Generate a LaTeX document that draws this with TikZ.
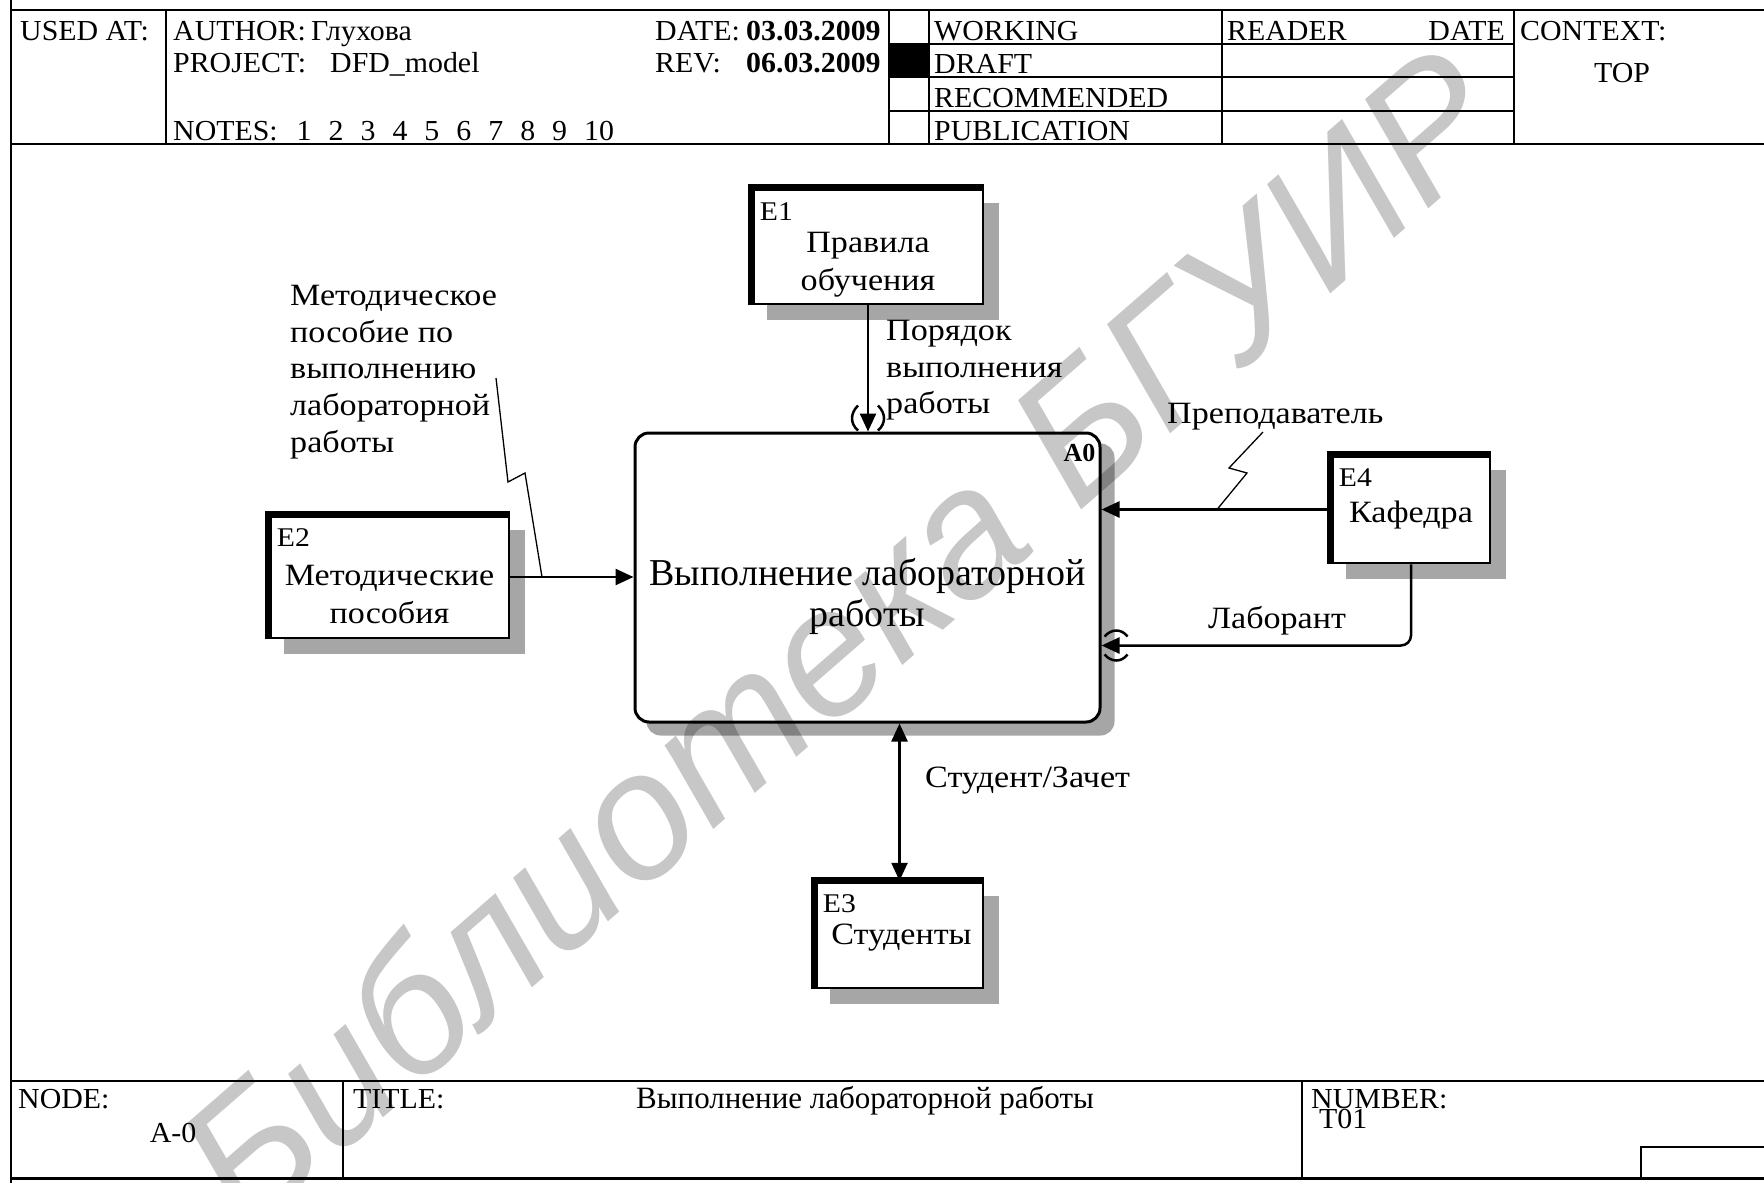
\documentclass[tikz,border=0pt]{standalone}
\usepackage{fontspec}
\setmainfont{Liberation Serif}
\setsansfont{Liberation Sans}
\newfontfamily\hdrfont[FakeStretch=1.03]{Liberation Serif}
\newfontfamily\lblfont[FakeStretch=1.1]{Liberation Serif}
\usetikzlibrary{positioning,arrows.meta,backgrounds,patterns}

\begin{document}
\begin{tikzpicture}[
x=1pt, y=-1pt,
every node/.style={inner sep=0pt},
hdr/.style={font=\hdrfont\fontsize{29}{34}\selectfont, anchor=base west},
rule/.style={line width=2pt},
ent/.style={draw, line width=2.5pt, fill=white},
heavy/.style={line width=7pt},
entname/.style={font=\lblfont\fontsize{31}{38}\selectfont, align=center},
eid/.style={font=\lblfont\fontsize{27}{30}\selectfont, anchor=base west},
flowlbl/.style={font=\lblfont\fontsize{31}{36.7}\selectfont, align=left},
flow/.style={line width=2.5pt, -{Triangle[length=18pt,width=16pt]}},
zig/.style={line width=1.3pt},
tun/.style={line width=2.5pt},
shade/.style={fill=black!35},
wm/.style={font=\sffamily\itshape\fontsize{180}{180}\selectfont, text=black!22, rotate=41}
]
\useasboundingbox (0,0) rectangle (1764,1183);

\draw[rule] (11,0) -- (11,1183);
\draw[rule] (11,10) -- (1764,10);
\draw[rule] (11,144) -- (1764,144);
\draw[rule] (166,10) -- (166,144);
\draw[rule] (889,10) -- (889,144);
\draw[rule] (929,10) -- (929,144);
\draw[rule] (1222,10) -- (1222,144);
\draw[rule] (1514,10) -- (1514,144);
\draw[rule] (889,44) -- (1514,44);
\draw[rule] (889,77) -- (1514,77);
\draw[rule] (889,111) -- (1514,111);
\fill (889,44) rectangle (929,77);

\node[hdr] (usedat) at (20,40) {USED AT:};
\node[hdr] (author) at (173,40) {AUTHOR:};
\node[hdr] (authorv) at (311,40) {Глухова};
\node[hdr] (project) at (173,72) {PROJECT:};
\node[hdr] (projectv) at (330,72) {DFD\_model};
\node[hdr] (notes) at (173,140) {NOTES:\hspace{19pt}1\hspace{17pt}2\hspace{17pt}3\hspace{17pt}4\hspace{17pt}5\hspace{17pt}6\hspace{17pt}7\hspace{17pt}8\hspace{17pt}9\hspace{17pt}10};
\node[hdr] (date) at (655,40) {DATE:};
\node[hdr] (datev) at (746,40) {\bfseries 03.03.2009};
\node[hdr] (rev) at (655,72) {REV:};
\node[hdr] (revv) at (746,72) {\bfseries 06.03.2009};
\node[hdr] (working) at (934,40) {WORKING};
\node[hdr] (draft) at (934,73) {DRAFT};
\node[hdr] (recom) at (934,107) {RECOMMENDED};
\node[hdr] (publ) at (934,140) {PUBLICATION};
\node[hdr] (reader) at (1227,40) {READER};
\node[hdr, anchor=base east] (rdate) at (1505,40) {DATE};
\node[hdr] (context) at (1520,40) {CONTEXT:};
\node[hdr, anchor=base] (top) at (1622,82) {TOP};

\draw[rule] (11,1081) -- (1764,1081);
\draw[line width=3pt] (11,1178) -- (1764,1178);
\draw[rule] (343,1081) -- (343,1178);
\draw[rule] (1302,1081) -- (1302,1178);
\draw[rule] (1641,1178) -- (1641,1147) -- (1764,1147);
\node[hdr] (node) at (18,1108) {NODE:};
\node[hdr, anchor=base] (nodev) at (173,1142) {A-0};
\node[hdr] (title) at (353,1108) {TITLE:};
\node[hdr, font=\fontsize{31}{34}\selectfont] (titlev) at (636,1108) {Выполнение лабораторной работы};
\node[hdr] (number) at (1311,1108) {NUMBER:};
\node[hdr] (numberv) at (1319,1128) {T01};

\node[draw, line width=3pt, rounded corners=14pt, fill=white, minimum width=465pt, minimum height=289pt] (a0) at (867.5,577.5) {};
\node[font=\fontsize{38}{41}\selectfont, align=center] (a0t) at ([yshift=-19pt]a0.center) {Выполнение лабораторной\\работы};
\node[font=\fontsize{26}{30}\selectfont\bfseries, anchor=base east] (a0id) at ([xshift=-6pt,yshift=-30pt]a0.north east) {A0};

\node[ent, minimum width=230pt, minimum height=115pt] (e1) at (868,246.5) {};
\node[ent, minimum width=239pt, minimum height=122pt] (e2) at (389.5,577) {};
\node[ent, minimum width=167pt, minimum height=106pt] (e3) at (899.5,935) {};
\node[ent, minimum width=158pt, minimum height=107pt] (e4) at (1411,509.5) {};
\draw[heavy] (e1.south west) -- (e1.north west) -- (e1.north east);
\draw[heavy] (e2.south west) -- (e2.north west) -- (e2.north east);
\draw[heavy] (e3.south west) -- (e3.north west) -- (e3.north east);
\draw[heavy] (e4.south west) -- (e4.north west) -- (e4.north east);
\node[eid] (e1id) at ([xshift=8pt,yshift=-33pt]e1.north west) {E1};
\node[eid] (e2id) at ([xshift=8pt,yshift=-32pt]e2.north west) {E2};
\node[eid] (e3id) at ([xshift=8pt,yshift=-32pt]e3.north west) {E3};
\node[eid] (e4id) at ([xshift=8pt,yshift=-32pt]e4.north west) {E4};
\node[entname] (e1t) at ([yshift=-18pt]e1.center) {Правила\\обучения};
\node[entname] (e2t) at ([yshift=-17pt]e2.center) {Методические\\пособия};
\node[entname] (e3t) at ([xshift=2pt,yshift=-3pt]e3.center) {Студенты};
\node[entname] (e4t) at ([yshift=-6pt]e4.center) {Кафедра};

\begin{scope}[on background layer]
\fill[shade] ([shift={(15,15)}]e1.south west) rectangle ([shift={(15,15)}]e1.north east);
\fill[shade] ([shift={(15,15)}]e2.south west) rectangle ([shift={(15,15)}]e2.north east);
\fill[shade] ([shift={(15,15)}]e3.south west) rectangle ([shift={(15,15)}]e3.north east);
\fill[shade] ([shift={(15,15)}]e4.south west) rectangle ([shift={(15,15)}]e4.north east);
\fill[shade, rounded corners=14pt] ([shift={(13,12)}]a0.south west) rectangle ([shift={(13,12)}]a0.north east);
\end{scope}

\coordinate (t1) at (e1.south |- a0.north);
\coordinate (t2) at ([yshift=-68pt]a0.east);
\draw[flow] (e1) -- (t1);
\draw[flow] (e2) -- (e2 -| a0.west);
\draw[flow] (e4) -- (e4 -| a0.east);
\draw[flow, rounded corners=10pt] (e4.south) |- (t2);
\draw[flow, {Triangle[length=18pt,width=16pt]}-{Triangle[length=18pt,width=16pt]}] (e3.north |- a0.south) -- (e3.north);

\draw[tun] ([shift={(-10,-26)}]t1) .. controls ([shift={(-18,-18)}]t1) and ([shift={(-18,-8)}]t1) .. ([shift={(-10,-1)}]t1);
\draw[tun] ([shift={(10,-26)}]t1) .. controls ([shift={(18,-18)}]t1) and ([shift={(18,-8)}]t1) .. ([shift={(10,-1)}]t1);
\draw[tun] ([shift={(3,-9)}]t2) .. controls ([shift={(10,-17)}]t2) and ([shift={(20,-17)}]t2) .. ([shift={(26,-9)}]t2);
\draw[tun] ([shift={(3,9)}]t2) .. controls ([shift={(10,17)}]t2) and ([shift={(20,17)}]t2) .. ([shift={(26,9)}]t2);

\node[flowlbl, anchor=north west] (metlbl) at (290,285) {Методическое\\пособие по\\выполнению\\лабораторной\\работы};
\node[flowlbl, anchor=north west] (porlbl) at (886,320) {Порядок\\выполнения\\работы};
\node[flowlbl, anchor=base west] (prelbl) at (1167,423) {Преподаватель};
\node[flowlbl, anchor=base] (lablbl) at (1277,628) {Лаборант};
\node[flowlbl, anchor=base west] (stlbl) at (925,787) {Студент/Зачет};

\draw[zig] (496,378) -- (508,482) -- (525,473) -- (542,0 |- e2.east);
\draw[zig] (1263,432) -- (1229,468) -- (1247,473) -- (1217,0 |- e4.west);

\begin{scope}[blend mode=multiply]
\node[wm] (wmark) at (838,636) {Библиотека БГУИР};
\end{scope}
\end{tikzpicture}
\end{document}
